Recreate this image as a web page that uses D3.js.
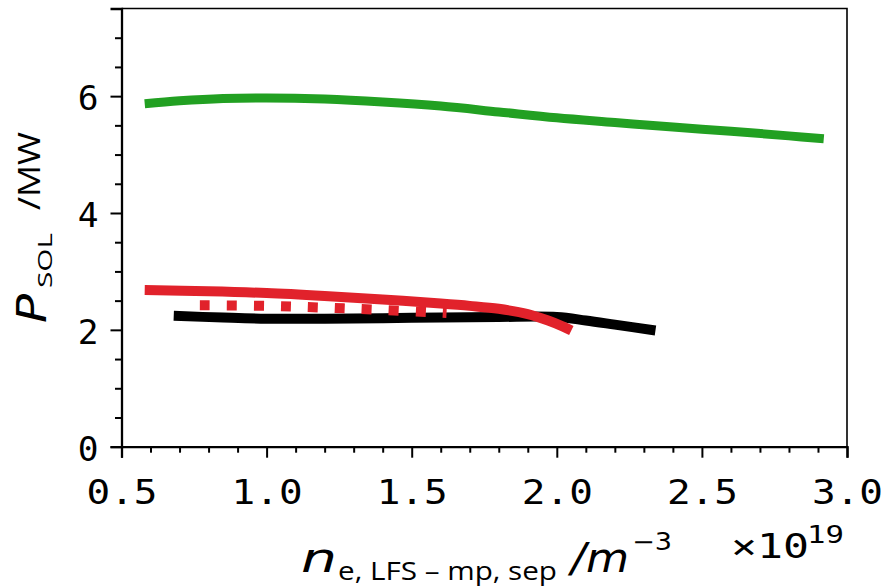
<!DOCTYPE html>
<html>
<head>
<meta charset="utf-8">
<script src="https://cdn.jsdelivr.net/npm/d3@7"></script>
<style>
  body { margin: 0; background: #fff; }
  svg { display: block; }
</style>
</head>
<body>
<svg id="chart" width="891" height="588"></svg>
<script>
// values (density in 1e19 m^-3, power in MW)
var greenN = [0.58, 0.7, 0.85, 1.0, 1.2, 1.4, 1.6, 1.8, 2.0, 2.2, 2.4, 2.6, 2.8, 2.92];
var greenP = [5.87, 5.92, 5.96, 5.97, 5.95, 5.90, 5.83, 5.73, 5.63, 5.55, 5.47, 5.40, 5.32, 5.27];

var redN = [0.58, 0.8, 1.0, 1.2, 1.4, 1.6, 1.7, 1.8, 1.9, 1.97, 2.02, 2.05];
var redP = [2.68, 2.66, 2.63, 2.58, 2.52, 2.45, 2.41, 2.36, 2.27, 2.16, 2.06, 1.99];

var dotN = [0.77, 1.0, 1.2, 1.4, 1.62];
var dotP = [2.42, 2.41, 2.38, 2.34, 2.29];

var blackN = [0.68, 0.85, 1.0, 1.2, 1.4, 1.6, 1.8, 2.0, 2.1, 2.2, 2.34];
var blackP = [2.24, 2.21, 2.19, 2.19, 2.20, 2.21, 2.22, 2.22, 2.16, 2.09, 1.99];

var xMajor = [0.5, 1.0, 1.5, 2.0, 2.5, 3.0];
var xMinor = [0.6, 0.7, 0.8, 0.9, 1.1, 1.2, 1.3, 1.4, 1.6, 1.7, 1.8, 1.9, 2.1, 2.2, 2.3, 2.4, 2.6, 2.7, 2.8, 2.9];
var yMajor = [0, 2, 4, 6];
var yMinor = [0.5, 1, 1.5, 2.5, 3, 3.5, 4.5, 5, 5.5, 6.5, 7];

var svg = d3.select("#chart");
var plotL = 121.5, plotR = 847, plotT = 8.5, plotB = 446.7;

var xs = d3.scaleLinear().domain([0.5, 3.0]).range([plotL, plotR]);
var ys = d3.scaleLinear().domain([0, 7.5]).range([plotB, plotT]);

var mono = "'DejaVu Sans Mono', monospace";
var sans = "'Open Sans', 'Noto Sans', sans-serif";
var ital = "'DejaVu Sans', sans-serif";

svg.append("rect").attr("width", 891).attr("height", 588).attr("fill", "#fff");

function series(n, p) {
    return n.map(function(d, i) { return [d, p[i]]; });
}
var line = d3.line()
    .x(function(d) { return xs(d[0]); })
    .y(function(d) { return ys(d[1]); })
    .curve(d3.curveCatmullRom.alpha(0.5));

svg.append("path").datum(series(blackN, blackP))
    .attr("d", line).attr("fill", "none")
    .attr("stroke", "#000").attr("stroke-width", 10);

svg.append("path").datum(series(dotN, dotP))
    .attr("d", line).attr("fill", "none")
    .attr("stroke", "#e1222b").attr("stroke-width", 10)
    .attr("stroke-dasharray", "10,17");

svg.append("path").datum(series(redN, redP))
    .attr("d", line).attr("fill", "none")
    .attr("stroke", "#e1222b").attr("stroke-width", 10);

svg.append("path").datum(series(greenN, greenP))
    .attr("d", line).attr("fill", "none")
    .attr("stroke", "#22a022").attr("stroke-width", 9);

// frame top / right
svg.append("path")
    .attr("d", "M" + plotL + "," + plotT + "H" + plotR + "V" + plotB)
    .attr("fill", "none").attr("stroke", "#000").attr("stroke-width", 1.6);

// x axis
var gx = svg.append("g").attr("transform", "translate(0," + plotB + ")");
gx.call(d3.axisBottom(xs).tickValues(xMajor).tickSize(11).tickPadding(22)
    .tickFormat(d3.format(".1f")));
gx.append("g").call(d3.axisBottom(xs).tickValues(xMinor).tickSize(6).tickFormat(""))
    .select(".domain").remove();

// y axis
var gy = svg.append("g").attr("transform", "translate(" + plotL + ",0)");
gy.call(d3.axisLeft(ys).tickValues(yMajor).tickSize(11).tickPadding(12)
    .tickFormat(d3.format("d")));
gy.append("g").call(d3.axisLeft(ys).tickValues(yMinor).tickSize(6.5).tickFormat(""))
    .select(".domain").remove();

svg.selectAll(".domain").attr("stroke-width", 2.3);
svg.selectAll(".tick line").attr("stroke-width", 2);

gx.selectAll(".tick text")
    .style("font-family", mono).style("font-size", "34.5px")
    .attr("textLength", 71).attr("lengthAdjust", "spacingAndGlyphs")
    .attr("x", -35.5).attr("text-anchor", "start");
gy.selectAll(".tick text")
    .style("font-family", mono).style("font-size", "34.5px")
    .attr("dy", "0.39em");

// x label
svg.append("text").attr("x", 301).attr("y", 572)
    .style("font-family", ital).style("font-style", "italic").style("font-size", "40px")
    .attr("textLength", 36).attr("lengthAdjust", "spacingAndGlyphs")
    .text("n");
svg.append("text").attr("x", 338).attr("y", 580)
    .style("font-family", sans).style("font-size", "25.5px")
    .attr("textLength", 219).attr("lengthAdjust", "spacingAndGlyphs")
    .text("e, LFS \u2013 mp, sep");
svg.append("text").attr("x", 571).attr("y", 572)
    .style("font-family", ital).style("font-style", "italic").style("font-size", "40px")
    .attr("textLength", 58).attr("lengthAdjust", "spacingAndGlyphs")
    .text("/m");
svg.append("text").attr("x", 632).attr("y", 550)
    .style("font-family", ital).style("font-size", "24px")
    .attr("textLength", 40).attr("lengthAdjust", "spacingAndGlyphs")
    .text("\u22123");

// offset text
svg.append("text").attr("x", 731).attr("y", 558)
    .style("font-family", mono).style("font-size", "34.5px")
    .attr("textLength", 78).attr("lengthAdjust", "spacingAndGlyphs")
    .text("\u00d710");
svg.append("text").attr("x", 807).attr("y", 543)
    .style("font-family", mono).style("font-size", "24.5px")
    .attr("textLength", 37).attr("lengthAdjust", "spacingAndGlyphs")
    .text("19");

// y label, rotated; origin at start of P on main baseline
var gl = svg.append("g").attr("transform", "translate(40,323) rotate(-90)");
gl.append("text").attr("x", 0).attr("y", 6)
    .style("font-family", ital).style("font-style", "italic").style("font-size", "40px")
    .attr("textLength", 29).attr("lengthAdjust", "spacingAndGlyphs")
    .text("P");
gl.append("text").attr("x", 35).attr("y", 12)
    .style("font-family", sans).style("font-size", "20px")
    .attr("textLength", 55).attr("lengthAdjust", "spacingAndGlyphs")
    .text("SOL");
gl.append("text").attr("x", 113).attr("y", 0)
    .style("font-family", sans).style("font-size", "31px")
    .attr("textLength", 78).attr("lengthAdjust", "spacingAndGlyphs")
    .text("/MW");
</script>
</body>
</html>
